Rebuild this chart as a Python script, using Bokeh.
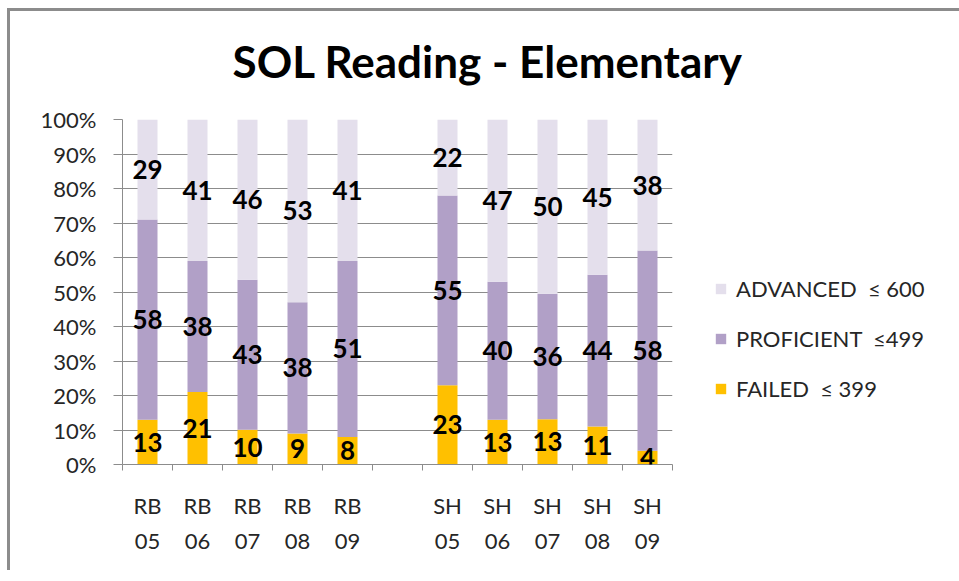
from bokeh.plotting import figure
from bokeh.models import (ColumnDataSource, FixedTicker, Legend, LegendItem, LabelSet,
                          Title, NumeralTickFormatter, Range1d)
from bokeh.core.properties import value
from bokeh.embed import file_html
from bokeh.resources import INLINE

# ---- data ----
categories = ["RB\n05", "RB\n06", "RB\n07", "RB\n08", "RB\n09", "",
              "SH\n05", "SH\n06", "SH\n07", "SH\n08", "SH\n09"]
failed     = [13, 21, 10, 9, 8, None, 23, 13, 13, 11, 4]
proficient = [58, 38, 43, 38, 51, None, 55, 40, 36, 44, 58]
advanced   = [29, 41, 46, 53, 41, None, 22, 47, 50, 45, 38]
series_names = ["FAILED  \u2264 399", "PROFICIENT  \u2264499", "ADVANCED  \u2264 600"]
colors = ["#FFC000", "#B1A0C7", "#E4DFEC"]
title_text = "SOL Reading - Elementary"

FONT = "Lato"

# ---- build stacked (100%) source ----
xs, f_t, p_t, a_t = [], [], [], []
lab_x, lab_y, lab_t = [], [], []
for i, cat in enumerate(categories):
    if failed[i] is None:
        continue
    tot = failed[i] + proficient[i] + advanced[i]
    f = failed[i] / tot
    pr = proficient[i] / tot
    ad = advanced[i] / tot
    xs.append(i + 0.5)
    f_t.append(f)
    p_t.append(f + pr)
    a_t.append(f + pr + ad)
    for lo, hi, v in ((0, f, failed[i]), (f, f + pr, proficient[i]), (f + pr, f + pr + ad, advanced[i])):
        lab_x.append(i + 0.5)
        lab_y.append((lo + hi) / 2)
        lab_t.append(str(v))

src = ColumnDataSource(dict(x=xs, f0=[0] * len(xs), f1=f_t, p1=p_t, a1=a_t))
lsrc = ColumnDataSource(dict(x=lab_x, y=lab_y, t=lab_t))

p = figure(frame_width=550, frame_height=345, output_backend="svg", toolbar_location=None,
           x_range=Range1d(0, len(categories)), y_range=Range1d(0, 1),
           min_border_left=122, min_border_right=279, min_border_top=119, min_border_bottom=106)
p.outline_line_color = None
p.background_fill_color = "white"
p.border_fill_color = None
p.styles = {
    "background-color": "white",
    "background-image": "linear-gradient(#8c8c8c, #8c8c8c), linear-gradient(#8c8c8c, #8c8c8c)",
    "background-size": "3px 100%, 100% 3px",
    "background-position": "7px 8px, 7px 8px",
    "background-repeat": "no-repeat",
}

bw = 0.4
r_f = p.vbar(x="x", bottom="f0", top="f1", width=bw, source=src, fill_color=colors[0], line_color=None)
r_p = p.vbar(x="x", bottom="f1", top="p1", width=bw, source=src, fill_color=colors[1], line_color=None)
r_a = p.vbar(x="x", bottom="p1", top="a1", width=bw, source=src, fill_color=colors[2], line_color=None)

labels = LabelSet(x="x", y="y", text="t", source=lsrc, text_align="center", text_baseline="middle",
                  text_font=value(FONT), text_font_style="bold", text_font_size="26px",
                  text_color="black")
p.add_layout(labels)

# y axis
p.yaxis.ticker = FixedTicker(ticks=[i / 10 for i in range(11)])
p.yaxis.formatter = NumeralTickFormatter(format="0%")
p.yaxis.major_label_text_font = FONT
p.yaxis.major_label_text_font_size = "22px"
p.yaxis.major_label_text_color = "#262626"
p.yaxis.major_tick_out = 9
p.yaxis.major_tick_in = 0
p.yaxis.minor_tick_line_color = None
p.yaxis.axis_line_color = "#8c8c8c"
p.yaxis.major_tick_line_color = "#8c8c8c"
p.yaxis.major_label_standoff = 17

# x axis: labels at slot centres, tick marks at slot boundaries
p.xaxis.ticker = FixedTicker(ticks=[i + 0.5 for i in range(len(categories))],
                             minor_ticks=list(range(len(categories) + 1)))
p.xaxis.major_label_overrides = {i + 0.5: c for i, c in enumerate(categories)}
p.xaxis.major_tick_in = 0
p.xaxis.major_tick_out = 0
p.xaxis.minor_tick_in = 0
p.xaxis.minor_tick_out = 6
p.xaxis.minor_tick_line_color = "#8c8c8c"
p.xaxis.axis_line_color = "#8c8c8c"
p.xaxis.major_label_text_font = FONT
p.xaxis.major_label_text_font_size = "22px"
p.xaxis.major_label_text_color = "#262626"
p.xaxis.major_label_text_line_height = 1.3
p.xaxis.major_label_standoff = 21

p.xgrid.grid_line_color = None
p.ygrid.ticker = FixedTicker(ticks=[i / 10 for i in range(11)])
p.ygrid.grid_line_color = "#8c8c8c"
p.ygrid.grid_line_width = 1

# legend (outside the frame, in the right panel)
legend = Legend(items=[LegendItem(label=series_names[2], renderers=[r_a]),
                       LegendItem(label=series_names[1], renderers=[r_p]),
                       LegendItem(label=series_names[0], renderers=[r_f])],
                location=(42, 62), orientation="vertical")
legend.padding = 0
legend.margin = 0
legend.spacing = 23
legend.glyph_width = 13
legend.glyph_height = 13
legend.label_height = 20
legend.label_standoff = 9
legend.label_text_font = FONT
legend.label_text_font_size = "22px"
legend.label_text_color = "#262626"
legend.border_line_color = None
legend.background_fill_alpha = 0
p.add_layout(legend, "right")

p.title = Title(text=title_text, align="left", offset=110, standoff=65, vertical_align="bottom",
                text_font=FONT, text_font_style="bold", text_font_size="44px", text_color="black")

open("out.html", "w").write(file_html(p, INLINE))
